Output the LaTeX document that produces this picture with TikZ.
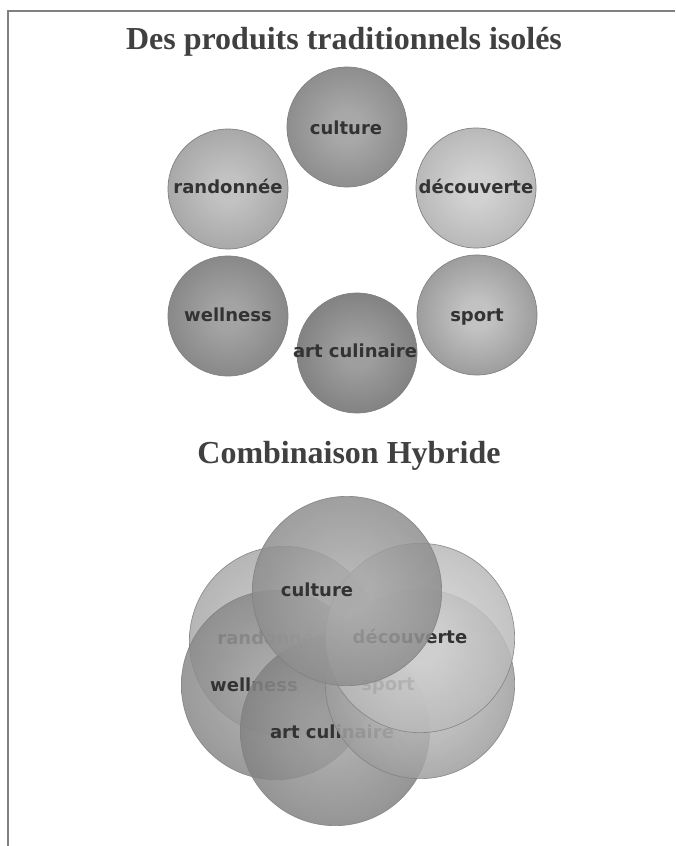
\documentclass[tikz,border=0pt]{standalone}
\usepackage{fontspec}
\setmainfont{Liberation Serif}
\newfontfamily\lblfont{DejaVu Sans}
\usepackage{tikz}

\colorlet{ballin}{black!30}
\colorlet{ballout}{black!50}
\pgfdeclareradialshading[ballin,ballout]{bubbleglow}{\pgfpointorigin}{%
    color(0bp)=(ballin); color(6bp)=(ballin); color(50bp)=(ballout)}

\begin{document}
\begin{tikzpicture}[x=0.75pt, y=-0.75pt,
        bubble/.style 2 args={circle, draw=black!50, line width=0.5pt,
            minimum size=90pt, inner sep=0pt,
            /utils/exec={\colorlet{ballin}{#1}\colorlet{ballout}{#2}},
            shading=bubbleglow},
        hybrid/.style 2 args={bubble={#1}{#2}, minimum size=142pt,
            fill opacity=0.85, draw opacity=0.85},
        lbl/.style={font=\lblfont\bfseries\fontsize{13.5}{16}\selectfont,
            text=black!80, text height=1ex, text depth=0pt, inner sep=0pt},
        titre/.style={font=\bfseries\fontsize{24}{28}\selectfont,
            text=black!75, anchor=base, inner sep=0pt},
        cadre/.style={draw=black!50, line width=0.9pt}
    ]
    \useasboundingbox (0,0) rectangle (675,846);
    \draw[cadre] (8,846) |- (675,11);

    % TOP: separate products
    \node[titre] (t1) at (344,49) {Des produits traditionnels isolés};

    \node[bubble={black!34}{black!58}] (cul) at (347,127) {};
    \node[lbl] (tcul) at (346,131) {culture};
    \node[bubble={black!24}{black!47}] (ran) at (228,189) {};
    \node[lbl] (tran) at (228,190) {randonnée};
    \node[bubble={black!18}{black!40}] (dec) at (476,188) {};
    \node[lbl] (tdec) at (476,190) {découverte};
    \node[bubble={black!36}{black!60}] (wel) at (228,316) {};
    \node[lbl] (twel) at (228,318) {wellness};
    \node[bubble={black!24}{black!57}] (spo) at (477,315) {};
    \node[lbl] (tspo) at (477,318) {sport};
    \node[bubble={black!38}{black!63}] (art) at (357,353) {};
    \node[lbl] (tart) at (355,354) {art culinaire};

    % BOTTOM: hybrid combination
    \node[titre] (t2) at (349,463) {Combinaison Hybride};

    \node[hybrid={black!24}{black!47}] (hran) at (284,641) {};
    \node[lbl] (thran) at (272,641) {randonnée};
    \node[hybrid={black!36}{black!60}] (hwel) at (276,685) {};
    \node[lbl] (thwel) at (254,688) {wellness};
    \node[hybrid={black!38}{black!63}] (hart) at (335,731) {};
    \node[lbl] (thart) at (332,735) {art culinaire};
    \node[hybrid={black!24}{black!57}] (hspo) at (420,684) {};
    \node[lbl] (thspo) at (388,687) {sport};
    \node[hybrid={black!18}{black!40}] (hdec) at (420,638) {};
    \node[lbl] (thdec) at (410,640) {découverte};
    \node[hybrid={black!34}{black!58}] (hcul) at (347,591) {};
    \node[lbl] (thcul) at (317,593) {culture};

\end{tikzpicture}
\end{document}
